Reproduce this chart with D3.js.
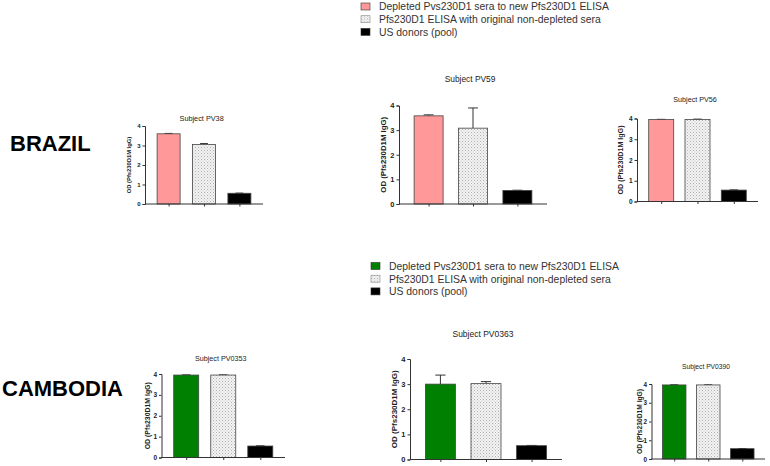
<!DOCTYPE html>
<html><head><meta charset="utf-8">
<script src="https://cdn.jsdelivr.net/npm/d3@7"></script>
<style>body{margin:0;background:#fff}svg{display:block}text{font-family:"Liberation Sans",Arial,sans-serif}</style>
</head><body><svg id="c" width="770" height="466"></svg>
<script>
// ---- data ----
const countries = ["BRAZIL", "CAMBODIA"];
const subjects = ["PV38", "PV59", "PV56", "PV0353", "PV0363", "PV0390"];
const subjectCountry = ["BRAZIL", "BRAZIL", "BRAZIL", "CAMBODIA", "CAMBODIA", "CAMBODIA"];
const seriesNames = ["Depleted Pvs230D1 sera to new Pfs230D1 ELISA", "Pfs230D1 ELISA with original non-depleted sera", "US donors (pool)"];
const depletedValues = [3.60, 3.58, 3.95, 3.95, 3.00, 3.95];
const depletedErrors = [0.02, 0.04, 0.01, 0.01, 0.36, 0.01];
const originalValues = [3.05, 3.08, 3.95, 3.95, 3.02, 3.95];
const originalErrors = [0.05, 0.82, 0.02, 0.01, 0.08, 0.01];
const usDonorValues  = [0.55, 0.55, 0.55, 0.55, 0.55, 0.55];
const usDonorErrors  = [0.01, 0.01, 0.01, 0.01, 0.01, 0.01];
const yTicks = [0, 1, 2, 3, 4];
const yTitle = "OD (Pfs230D1M IgG)";

// ---- layout ----
const depletedColor = {BRAZIL: "#ff9999", CAMBODIA: "#008000"};
const panels = [
  {x0:145, x1:263, y0:204, y1:126, fs:5.8, kfs:6, tfs:7.3, lab:131, ty:118, bw:23},
  {x0:399, x1:547, y0:204, y1:105.5, fs:7.8, kfs:7.5, tfs:8.4, lab:386, ty:79, bw:29},
  {x0:637, x1:758, y0:201.5, y1:118.5, fs:7.1, kfs:6.5, tfs:7.2, lab:623, ty:99, bw:25},
  {x0:161.5, x1:285, y0:457.5, y1:374, fs:6.9, kfs:6.5, tfs:7.2, lab:150, ty:358, bw:25},
  {x0:410, x1:562, y0:459.5, y1:359, fs:8, kfs:7.5, tfs:8.5, lab:397, ty:334, bw:30},
  {x0:651.5, x1:765, y0:459, y1:384, fs:6.7, kfs:6.3, tfs:6.7, lab:642, ty:366, bw:23.5}
];
const svg = d3.select("#c");
const defs = svg.append("defs");
const pat = defs.append("pattern").attr("id","dots").attr("patternUnits","userSpaceOnUse")
  .attr("width",3).attr("height",3);
pat.append("rect").attr("width",3).attr("height",3).attr("fill","#f2f2f2");
pat.append("rect").attr("x",0).attr("y",0).attr("width",1).attr("height",1).attr("fill","#b0b0b0");
pat.append("rect").attr("x",1.5).attr("y",1.5).attr("width",1).attr("height",1).attr("fill","#c8c8c8");

// country labels
svg.append("text").attr("x",10).attr("y",151).attr("font-size",22).attr("font-weight","bold").text(countries[0]);
svg.append("text").attr("x",2).attr("y",396).attr("font-size",22).attr("font-weight","bold").text(countries[1]);

// legends
function legend(x, y, country) {
  const g = svg.append("g").attr("transform", `translate(${x},${y})`);
  const fills = [depletedColor[country], "url(#dots)", "#000"];
  seriesNames.forEach((s, i) => {
    g.append("rect").attr("x",0).attr("y",i*12.7-3.5).attr("width",9).attr("height",7)
      .attr("fill",fills[i]).attr("stroke", i===1? "#888":"#333").attr("stroke-width",0.6);
    g.append("text").attr("x",18).attr("y",i*12.7+3.8).attr("font-size",10.4).attr("fill","#333").text(s);
  });
}
legend(361, 6.5, "BRAZIL");
legend(371, 266, "CAMBODIA");

subjects.forEach((subj, k) => {
  const p = panels[k];
  const country = subjectCountry[k];
  const vals = [depletedValues[k], originalValues[k], usDonorValues[k]];
  const errs = [depletedErrors[k], originalErrors[k], usDonorErrors[k]];
  const y = d3.scaleLinear().domain([0,4]).range([p.y0, p.y1]);
  const x = d3.scaleBand().domain([0,1,2]).range([p.x0, p.x1]).paddingInner(0.5).paddingOuter(0.417);
  const g = svg.append("g");
  const fills = [depletedColor[country], "url(#dots)", "#000"];
  vals.forEach((v, i) => {
    const cx = x(i) + x.bandwidth()/2;
    const bw = p.bw;
    const top = y(v + errs[i]);
    g.append("line").attr("x1",cx).attr("x2",cx).attr("y1",y(v)).attr("y2",top).attr("stroke","#333").attr("stroke-width",1);
    g.append("line").attr("x1",cx-bw*0.17).attr("x2",cx+bw*0.17).attr("y1",top).attr("y2",top).attr("stroke","#333").attr("stroke-width",1);
    g.append("rect").attr("x",cx-bw/2).attr("y",y(v)).attr("width",bw).attr("height",y(0)-y(v))
      .attr("fill",fills[i]).attr("stroke", "#444").attr("stroke-width",0.8);
  });
  const ya = d3.axisLeft(y).tickValues(yTicks).tickFormat(d3.format("d")).tickSize(2.5).tickPadding(2);
  const yg = g.append("g").attr("transform",`translate(${p.x0},0)`).call(ya);
  yg.selectAll("text").attr("font-size",p.kfs).attr("font-weight","bold").attr("fill","#222");
  yg.selectAll("line,path").attr("stroke","#333");
  const xa = d3.axisBottom(d3.scaleLinear().domain([p.x0,p.x1]).range([p.x0,p.x1]))
    .tickValues([0,1,2].map(i => x(i)+x.bandwidth()/2)).tickSize(2.5).tickFormat("");
  const xg = g.append("g").attr("transform",`translate(0,${p.y0})`).call(xa);
  xg.select("path").attr("d",`M${p.x0},0H${p.x1}`);
  xg.selectAll("line,path").attr("stroke","#333");
  g.append("text").attr("transform",`translate(${p.lab},${(p.y0+p.y1)/2}) rotate(-90)`)
    .attr("text-anchor","middle").attr("font-size",p.fs).attr("font-weight","bold").attr("fill","#222").text(yTitle);
  g.append("text").attr("x",(p.x0+p.x1)/2 - 0.02*(p.x1-p.x0)).attr("y",p.ty+3).attr("text-anchor","middle")
    .attr("font-size",p.tfs).attr("fill","#222").text("Subject " + subj);
});
</script></body></html>
